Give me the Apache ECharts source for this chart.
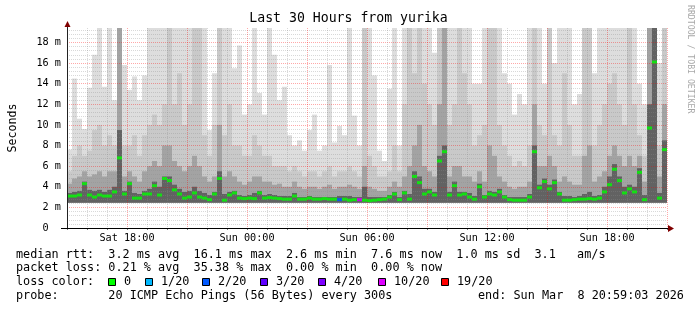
<!DOCTYPE html>
<html><head><meta charset="utf-8">
<script src="https://cdn.jsdelivr.net/npm/echarts@6/dist/echarts.min.js"></script>
<style>html,body{margin:0;padding:0;background:#fff}#c{width:697px;height:310px}</style>
</head><body><div id="c"></div>
<script>
// ---- data (ms), 15-minute buckets starting Sat 15:00 ----
const bucketHours = 0.25;
const xLabels = { 3: 'Sat 18:00', 9: 'Sun 00:00', 15: 'Sun 06:00', 21: 'Sun 12:00', 27: 'Sun 18:00' };
const yLabelValues = [0, 2, 4, 6, 8, 10, 12, 14, 16, 18];
const smokeFloor = 2.45;
const medianRtt = [
  3.1, 3.1, 3.2, 4.3, 3.2, 3.0, 3.2, 3.1, 3.1, 3.5,
  6.8, 3.3, 4.3, 2.9, 2.9, 3.3, 3.3, 4.1, 3.2, 4.8,
  4.6, 3.7, 3.3, 2.9, 3.0, 3.4, 3.0, 2.9, 2.75, 3.3,
  4.8, 2.7, 3.2, 3.4, 2.9, 2.85, 2.9, 2.85, 3.4, 2.9,
  2.95, 2.9, 2.85, 2.8, 2.8, 3.1, 2.8, 2.8, 2.9, 2.8,
  2.8, 2.85, 2.8, 2.8, 2.75, 2.8, 2.7, 2.75, 2.75, 2.7,
  2.65, 2.7, 2.75, 2.8, 3.0, 3.3, 2.75, 3.4, 2.8, 5.0,
  4.4, 3.3, 3.5, 3.2, 6.5, 7.4, 3.2, 4.1, 3.2, 3.3,
  3.0, 2.8, 4.0, 3.0, 3.3, 3.2, 3.5, 3.0, 2.75, 2.7,
  2.7, 2.7, 3.0, 7.4, 3.9, 4.5, 3.8, 4.4, 3.3, 2.7,
  2.7, 2.75, 2.8, 2.8, 2.85, 2.8, 2.9, 3.5, 4.2, 5.7,
  4.6, 3.4, 3.8, 3.5, 5.4, 2.75, 9.7, 16.1, 2.9, 7.6
];
const smokeMax = [
  7.6, 14.5, 10.6, 9.6, 13.6, 16.8, 19.4, 13.7, 19.4, 12.4,
  19.4, 15.8, 13.4, 14.7, 12.4, 14.8, 19.4, 19.4, 19.4, 19.4,
  19.4, 19.4, 19.4, 19.4, 19.4, 19.4, 19.4, 19.4, 9.5, 15,
  19.4, 19.4, 19.4, 15.5, 17.7, 11, 12, 19.4, 13.1, 11,
  19.4, 16.8, 12.4, 13.7, 9, 8, 8.5, 7.5, 9.5, 11,
  7.5, 8, 15.8, 8.3, 9.9, 9, 19.4, 10.9, 8, 19.4,
  19.4, 14.8, 7.5, 6.5, 13.5, 19.4, 8, 19.4, 19.4, 19.4,
  19.4, 19.4, 19.4, 17, 19.4, 19.4, 19.4, 19.4, 19.4, 19.4,
  19.4, 14, 14, 19.4, 19.4, 19.4, 19.4, 15, 14, 11,
  13, 12, 19.4, 19.4, 19.4, 14, 19.4, 16, 19.4, 19.4,
  19.4, 12, 13, 19.4, 19.4, 15, 19.4, 19.4, 19.4, 19.4,
  19.4, 19.4, 19.4, 19.4, 14, 12, 19.4, 19.4, 16, 19.4
];
const smokeP2 = [
  5.5, 7, 8, 7, 7.5, 9.5, 10, 8, 9, 8,
  19.4, 8, 8, 9, 7, 9, 10, 11, 10, 12,
  19.4, 12, 15, 10, 12, 19.4, 19.4, 9, 7, 10,
  19.4, 9, 12, 8, 8, 7, 7, 9, 8, 7,
  7, 6, 6, 6, 5.5, 6, 5.5, 5, 5.5, 5.5,
  5, 5.5, 6, 5, 5.5, 5.5, 6, 5.5, 5, 19.4,
  7, 6, 5, 5, 5.5, 8, 5.5, 12, 19.4, 15,
  19.4, 14, 12, 10, 19.4, 19.4, 10, 12, 19.4, 15,
  12, 8, 9, 10, 19.4, 19.4, 10, 8, 7, 6,
  6.5, 6, 8, 19.4, 10, 9, 19.4, 9, 8, 15,
  10, 7, 7, 19.4, 19.4, 8, 10, 12, 14, 15,
  12, 10, 19.4, 12, 9, 7, 19.4, 19.4, 8, 19.4
];
const smokeP3 = [
  4.3, 4.8, 5, 5.5, 5, 5.2, 5.5, 5, 5.5, 5.5,
  19.4, 5, 5.5, 5, 4.5, 5.5, 6, 6.5, 6, 8,
  8, 6.5, 6, 5.5, 6, 7, 6, 5, 4.5, 5,
  10, 5, 5.5, 5, 4.5, 4.2, 4.5, 5, 5, 4.5,
  4.5, 4.2, 4.3, 4, 4, 4.5, 4, 3.8, 4, 4,
  3.8, 4, 4.2, 3.8, 4, 4, 4.2, 4, 3.8, 6,
  4, 3.8, 3.6, 3.6, 4, 4.5, 4, 5, 6, 8,
  10, 6, 5.5, 5, 12, 19.4, 5, 6, 6, 5,
  5, 4.5, 5.5, 4.5, 8, 7, 5, 4.5, 4, 3.8,
  4, 4, 4.5, 12, 6, 6, 7, 6, 4.5, 5,
  4.5, 4.2, 4.2, 7, 8, 4.5, 5, 5.5, 7, 8,
  7, 6, 7, 6, 7, 4.5, 19.4, 19.4, 5, 12
];
const smokeP4 = [
  3.4, 3.5, 3.6, 4.5, 3.7, 3.6, 3.7, 3.5, 3.7, 4.0,
  9.5, 3.6, 4.5, 3.4, 3.3, 3.6, 3.8, 4.5, 4.0, 5.0,
  5, 4.2, 3.8, 3.5, 3.6, 4.0, 3.6, 3.4, 3.2, 3.5,
  5.5, 3.3, 3.5, 3.6, 3.2, 3.1, 3.2, 3.4, 3.6, 3.2,
  3.3, 3.2, 3.1, 3.1, 3.1, 3.4, 3.0, 3.0, 3.1, 3.0,
  3.0, 3.0, 3.0, 3.0, 3.1, 3.1, 3.1, 3.0, 3.0, 4.0,
  3.0, 3.0, 3.0, 3.0, 3.2, 3.5, 3.0, 3.6, 3.3, 5.5,
  5, 3.8, 3.8, 3.5, 7, 8, 3.5, 4.5, 3.5, 3.5,
  3.4, 3.1, 4.3, 3.2, 3.6, 3.5, 3.8, 3.2, 3.0, 3.0,
  3.0, 3.0, 3.3, 8, 4.2, 4.8, 4.2, 4.7, 3.5, 3.1,
  3.1, 3.0, 3.1, 3.3, 3.5, 3.1, 3.2, 4.0, 5.0, 6.2,
  5.0, 4.0, 4.2, 4.0, 5.8, 3.2, 12, 19.4, 3.4, 8.5
];
const lossBuckets = [54, 58];
const lossLevels = ['2/20', '10/20'];
const lossLegend = ['0', '1/20', '2/20', '3/20', '4/20', '10/20', '19/20'];
const lossColors = ['#00ff00', '#00b8ff', '#0059ff', '#5e00ff', '#7e00ff', '#dd00ff', '#ff0000'];

// ---- styles / layout ----
const MONO = '"DejaVu Sans Mono", monospace';
const smokeColors = ['#dddddd', '#c9c9c9', '#a3a3a3', '#626262'];
const majorGrid = 'rgba(255,0,0,0.34)';
const minorGrid = 'rgba(140,140,140,0.33)';
const arrowColor = '#800000';

const smokeData = medianRtt.map((_, i) => [i * bucketHours, smokeFloor, smokeMax[i], smokeP2[i], smokeP3[i], smokeP4[i]]);
const medianData = medianRtt.map((v, i) => {
  const k = lossBuckets.indexOf(i);
  const color = k < 0 ? lossColors[0] : lossColors[lossLegend.indexOf(lossLevels[k])];
  return { value: [i * bucketHours + bucketHours / 2, v], itemStyle: { color } };
});

const chart = echarts.init(document.getElementById('c'), null, { renderer: 'canvas' });

const rowX = 16;
const rowY = [254.5, 268.3, 282, 295.7];
const boxX = [108.5, 145.5, 202.5, 260.5, 318.5, 378.5, 441.5];
const legendGraphics = [];
const rowStyle = { fontFamily: MONO, fontSize: 11.8, fill: '#000', verticalAlign: 'middle', align: 'left' };
[
  [rowX, rowY[0], 'median rtt:  3.2 ms avg  16.1 ms max  2.6 ms min  7.6 ms now  1.0 ms sd  3.1   am/s'],
  [rowX, rowY[1], 'packet loss: 0.21 % avg  35.38 % max  0.00 % min  0.00 % now'],
  [rowX, rowY[2], 'loss color:'],
  [rowX, rowY[3], 'probe:       20 ICMP Echo Pings (56 Bytes) every 300s'],
  [478, rowY[3], 'end: Sun Mar  8 20:59:03 2026']
].forEach(([x, y, t]) => legendGraphics.push({ type: 'text', x, y, style: Object.assign({ text: t }, rowStyle), silent: true }));
lossLegend.forEach((lab, k) => {
  legendGraphics.push({ type: 'rect', shape: { x: boxX[k], y: 278.5, width: 7, height: 7 }, style: { fill: lossColors[k], stroke: '#000', lineWidth: 1 }, silent: true });
  legendGraphics.push({ type: 'text', x: boxX[k] + 15.5, y: rowY[2], style: Object.assign({ text: lab }, rowStyle), silent: true });
});

const option = {
  animation: false,
  backgroundColor: '#ffffff',
  title: {
    text: 'Last 30 Hours from yurika', left: 'center', top: 12, padding: 0,
    textStyle: { fontFamily: MONO, fontSize: 13.2, fontWeight: 'normal', color: '#000' }
  },
  grid: { left: 67, right: 30, top: 28, bottom: 82, containLabel: false, outerBoundsMode: 'none' },
  xAxis: {
    type: 'value', min: 0, max: 30, interval: 1, z: 3,
    axisLine: { show: true, onZero: false, lineStyle: { color: '#000', width: 1 } },
    axisTick: { show: true, length: 2, lineStyle: { color: '#777' } },
    axisLabel: {
      formatter: v => xLabels[v] || '', margin: 5, fontFamily: MONO, fontSize: 10.2, color: '#000',
      showMinLabel: true, showMaxLabel: true, hideOverlap: false
    },
    splitLine: { show: true, lineStyle: { color: [majorGrid, minorGrid, minorGrid], type: [1, 1], width: 1 } }
  },
  yAxis: {
    type: 'value', min: 0, max: 19.4, interval: 0.4, z: 3,
    name: 'Seconds', nameLocation: 'middle', nameGap: 48, nameRotate: 90,
    nameTextStyle: { fontFamily: MONO, fontSize: 11.6, color: '#000' },
    axisLine: { show: true, lineStyle: { color: '#222', width: 1 } },
    axisTick: { show: false },
    axisLabel: {
      margin: 6, fontFamily: MONO, fontSize: 10.2, color: '#000', showMaxLabel: false,
      formatter: v => {
        const hit = yLabelValues.find(t => Math.abs(t - v) < 1e-6);
        if (hit === undefined) return '';
        return hit === 0 ? '0  ' : hit + ' m';
      }
    },
    splitLine: { show: true, showMaxLine: false, lineStyle: { color: [majorGrid, minorGrid, minorGrid, minorGrid, minorGrid], type: [1, 1], width: 1 } }
  },
  series: [
    {
      type: 'custom', z: 2, silent: true, clip: true,
      data: smokeData,
      encode: { x: 0, y: [1, 2] },
      renderItem: function (params, api) {
        const x0 = api.coord([api.value(0), 0])[0];
        const x1 = api.coord([api.value(0) + bucketHours, 0])[0];
        const yb = api.coord([0, api.value(1)])[1];
        const children = [];
        for (let k = 0; k < 4; k++) {
          const yt = api.coord([0, api.value(2 + k)])[1];
          children.push({ type: 'rect', shape: { x: x0, y: yt, width: x1 - x0, height: yb - yt }, style: { fill: smokeColors[k] } });
        }
        return { type: 'group', children };
      }
    },
    {
      type: 'scatter', z: 4, silent: true,
      symbol: 'rect', symbolSize: [5, 3],
      data: medianData
    }
  ],
  graphic: [
    { type: 'line', shape: { x1: 61, y1: 228.5, x2: 668, y2: 228.5 }, style: { stroke: '#000', lineWidth: 1 }, z: 10, silent: true },
    { type: 'line', shape: { x1: 67.5, y1: 22, x2: 67.5, y2: 228 }, style: { stroke: '#222', lineWidth: 1 }, z: 10, silent: true },
    { type: 'polygon', shape: { points: [[668, 225], [674, 228.5], [668, 232]] }, style: { fill: arrowColor }, z: 10, silent: true },
    { type: 'polygon', shape: { points: [[64.5, 27], [67.5, 21], [70.5, 27]] }, style: { fill: arrowColor }, z: 10, silent: true },
    { type: 'text', x: 690, y: 5, rotation: -Math.PI / 2, style: { text: 'RRDTOOL / TOBI OETIKER', fontFamily: MONO, fontSize: 8.2, fill: '#a8a8a8', align: 'left', verticalAlign: 'middle' }, silent: true }
  ].concat(legendGraphics)
};
chart.setOption(option);
</script></body></html>
